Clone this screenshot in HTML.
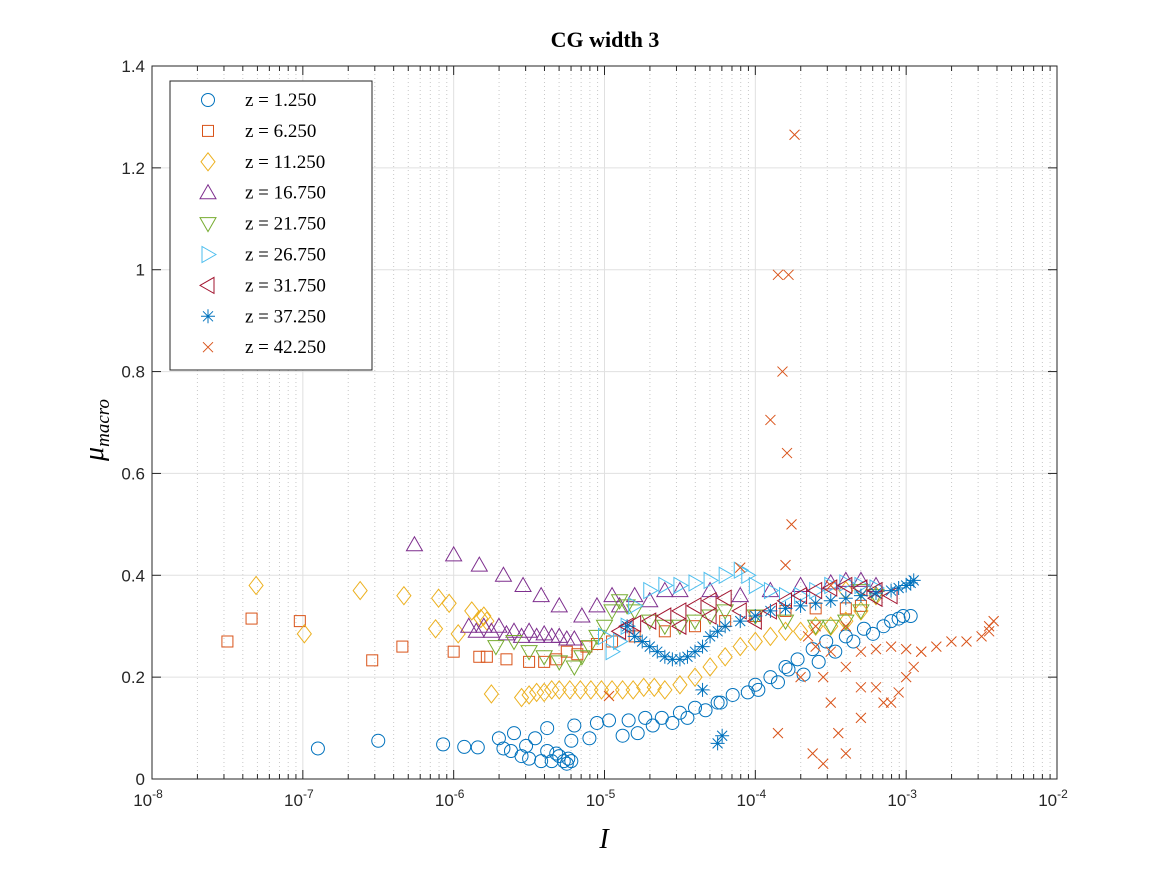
<!DOCTYPE html>
<html><head><meta charset="utf-8"><style>
body{margin:0;background:#fff}
svg{display:block;font-family:"Liberation Sans",sans-serif}
</style></head><body>
<svg id="chart" width="1167" height="875"></svg>
<script>
const categories=["z = 1.250","z = 6.250","z = 11.250","z = 16.750","z = 21.750","z = 26.750","z = 31.750","z = 37.250","z = 42.250"];
const xTicks=[-8,-7,-6,-5,-4,-3,-2];
const yTicks=[0,0.2,0.4,0.6,0.8,1,1.2,1.4];
const yTickLabels=["0","0.2","0.4","0.6","0.8","1","1.2","1.4"];
const s1x=[-6.90,-6.50,-6.07,-5.93,-5.84,-5.70,-5.67,-5.62,-5.60,-5.55,-5.52,-5.50,-5.46,-5.42,-5.38,-5.38,-5.35,-5.32,-5.30,-5.27,-5.25,-5.24,-5.22,-5.22,-5.20,-5.10,-5.05,-4.97,-4.88,-4.84,-4.78,-4.73,-4.68,-4.62,-4.55,-4.50,-4.45,-4.40,-4.33,-4.25,-4.23,-4.15,-4.05,-4.00,-3.98,-3.90,-3.85,-3.80,-3.78,-3.72,-3.68,-3.62,-3.58,-3.53,-3.47,-3.40,-3.35,-3.28,-3.22,-3.15,-3.10,-3.05,-3.02,-2.97];
const s1y=[0.06,0.075,0.068,0.063,0.062,0.08,0.06,0.055,0.09,0.045,0.065,0.04,0.08,0.035,0.1,0.055,0.035,0.05,0.045,0.035,0.03,0.04,0.035,0.075,0.105,0.08,0.11,0.115,0.085,0.115,0.09,0.12,0.105,0.12,0.11,0.13,0.12,0.14,0.135,0.15,0.15,0.165,0.17,0.185,0.175,0.2,0.19,0.22,0.215,0.235,0.205,0.255,0.23,0.27,0.25,0.28,0.27,0.295,0.285,0.3,0.31,0.315,0.32,0.32];
const s2x=[-7.50,-7.34,-7.02,-6.54,-6.34,-6.00,-5.83,-5.78,-5.65,-5.5,-5.4,-5.32,-5.25,-5.18,-5.12,-5.05,-4.95,-4.8,-4.6,-4.4,-4.2,-4.0,-3.8,-3.6,-3.4,-3.3];
const s2y=[0.27,0.315,0.31,0.233,0.26,0.25,0.24,0.24,0.235,0.23,0.23,0.235,0.25,0.245,0.26,0.265,0.27,0.28,0.29,0.3,0.31,0.32,0.33,0.335,0.335,0.34];
const s3x=[-7.31,-6.99,-6.62,-6.33,-6.12,-6.03,-6.10,-5.97,-5.88,-5.82,-5.80,-5.78,-5.75,-5.55,-5.5,-5.45,-5.4,-5.35,-5.3,-5.23,-5.16,-5.09,-5.02,-4.95,-4.88,-4.81,-4.74,-4.67,-4.6,-4.5,-4.4,-4.3,-4.2,-4.1,-4.0,-3.9,-3.8,-3.7,-3.6,-3.5,-3.4,-3.3,-3.2,-3.4];
const s3y=[0.38,0.285,0.37,0.36,0.295,0.345,0.355,0.285,0.33,0.315,0.32,0.31,0.167,0.16,0.165,0.17,0.17,0.175,0.175,0.175,0.175,0.175,0.175,0.175,0.175,0.175,0.18,0.18,0.175,0.185,0.2,0.22,0.24,0.26,0.27,0.28,0.29,0.29,0.3,0.3,0.31,0.33,0.36,0.37];
const s4x=[-6.26,-6.0,-5.83,-5.67,-5.54,-5.42,-5.3,-5.15,-5.05,-4.95,-5.9,-5.85,-5.8,-5.75,-5.7,-5.65,-5.6,-5.55,-5.5,-5.45,-5.4,-5.35,-5.3,-5.25,-5.2,-4.9,-4.8,-4.7,-4.6,-4.5,-4.3,-4.1,-3.9,-3.7,-3.5,-3.4,-3.3,-3.2];
const s4y=[0.46,0.44,0.42,0.40,0.38,0.36,0.34,0.32,0.34,0.36,0.3,0.29,0.3,0.29,0.3,0.285,0.29,0.28,0.29,0.28,0.285,0.28,0.28,0.275,0.275,0.34,0.36,0.35,0.37,0.37,0.37,0.36,0.37,0.38,0.385,0.39,0.39,0.38];
const s5x=[-5.72,-5.6,-5.5,-5.4,-5.3,-5.2,-5.15,-5.1,-5.05,-5.0,-4.95,-4.9,-4.85,-4.8,-4.7,-4.6,-4.5,-4.4,-4.3,-4.2,-4.0,-3.8,-3.6,-3.5,-3.4,-3.3,-3.2,-3.3];
const s5y=[0.26,0.27,0.25,0.24,0.23,0.22,0.24,0.26,0.28,0.3,0.33,0.35,0.34,0.33,0.31,0.3,0.3,0.31,0.32,0.33,0.32,0.31,0.3,0.3,0.31,0.33,0.36,0.37];
const s6x=[-5.0,-4.95,-4.9,-4.85,-4.8,-4.7,-4.6,-4.5,-4.4,-4.3,-4.2,-4.1,-4.05,-4.0,-3.9,-3.8,-3.7,-3.6,-3.5,-3.4,-3.3,-3.2];
const s6y=[0.28,0.25,0.27,0.3,0.34,0.37,0.38,0.38,0.385,0.39,0.4,0.41,0.4,0.38,0.37,0.36,0.36,0.37,0.38,0.385,0.38,0.375];
const s7x=[-4.9,-4.85,-4.8,-4.7,-4.6,-4.5,-4.4,-4.3,-4.2,-4.1,-4.0,-3.9,-3.8,-3.7,-3.6,-3.5,-3.4,-3.3,-3.2,-3.1,-3.2,-4.3,-4.5];
const s7y=[0.29,0.3,0.305,0.31,0.32,0.33,0.34,0.35,0.355,0.33,0.31,0.33,0.35,0.36,0.37,0.375,0.38,0.375,0.37,0.36,0.355,0.32,0.3];
const s8x=[-4.85,-4.8,-4.75,-4.7,-4.65,-4.6,-4.55,-4.5,-4.45,-4.4,-4.35,-4.3,-4.25,-4.2,-4.1,-4.0,-3.9,-3.8,-3.7,-3.6,-3.5,-3.4,-3.3,-3.2,-3.1,-3.05,-3.0,-2.97,-2.95,-4.35,-4.25,-4.22];
const s8y=[0.3,0.28,0.27,0.26,0.25,0.24,0.235,0.235,0.24,0.25,0.26,0.28,0.29,0.3,0.31,0.32,0.33,0.335,0.34,0.345,0.35,0.355,0.36,0.365,0.37,0.375,0.38,0.385,0.39,0.175,0.07,0.085];
const s9x=[-3.74,-3.85,-3.78,-3.9,-3.82,-3.79,-3.76,-3.8,-4.1,-3.5,-4.97,-3.65,-3.6,-3.55,-3.5,-3.45,-3.62,-3.55,-3.85,-3.7,-3.4,-3.3,-3.2,-3.15,-3.1,-3.05,-3.0,-2.95,-2.9,-2.8,-2.7,-2.6,-2.5,-2.45,-2.42,-2.45,-3.3,-3.2,-3.1,-3.0,-2.9,-3.4,-3.5,-3.6,-3.3,-3.4];
const s9y=[1.265,0.99,0.99,0.705,0.8,0.64,0.5,0.42,0.415,0.38,0.163,0.28,0.26,0.2,0.15,0.09,0.05,0.03,0.09,0.2,0.22,0.18,0.18,0.15,0.15,0.17,0.2,0.22,0.25,0.26,0.27,0.27,0.28,0.3,0.31,0.29,0.25,0.255,0.26,0.255,0.25,0.3,0.25,0.3,0.12,0.05];
const seriesX=[s1x,s2x,s3x,s4x,s5x,s6x,s7x,s8x,s9x];
const seriesY=[s1y,s2y,s3y,s4y,s5y,s6y,s7y,s8y,s9y];
const colors=["#0072BD","#D95319","#EDB120","#7E2F8E","#77AC30","#4DBEEE","#A2142F","#0072BD","#D95319"];
const shapes=["o","s","d","^","v",">","<","*","x"];

const L=152,R=1057,T=66,B=779;
const X=v=>L+(v+8)/6*(R-L);
const Y=v=>B-v/1.4*(B-T);
const svg=document.getElementById('chart');
const NS="http://www.w3.org/2000/svg";
function mk(tag,attrs,parent){const e=document.createElementNS(NS,tag);for(const k in attrs)e.setAttribute(k,attrs[k]);(parent||svg).appendChild(e);return e;}
const bg=mk('rect',{x:L,y:T,width:R-L,height:B-T,fill:'#fff'});


const grid=mk('g',{});


for(let d=-8;d<-2;d++){for(let m=2;m<10;m++){const x=X(d+Math.log10(m));mk('line',{x1:x,x2:x,y1:T,y2:B,stroke:'#c8c8c8','stroke-dasharray':'1,3','stroke-width':1},grid);}}
xTicks.forEach(t=>mk('line',{x1:X(t),x2:X(t),y1:T,y2:B,stroke:'#e0e0e0','stroke-width':1},grid));
yTicks.forEach(t=>mk('line',{x1:L,x2:R,y1:Y(t),y2:Y(t),stroke:'#e0e0e0','stroke-width':1},grid));
mk('rect',{x:L,y:T,width:R-L,height:B-T,fill:'none',stroke:'#262626','stroke-width':1});
const ax=mk('g',{});


for(let d=-8;d<-2;d++){for(let m=2;m<10;m++){const x=X(d+Math.log10(m));mk('line',{x1:x,x2:x,y1:B,y2:B-5,stroke:'#262626'},ax);mk('line',{x1:x,x2:x,y1:T,y2:T+5,stroke:'#262626'},ax);}}
xTicks.forEach(t=>{mk('line',{x1:X(t),x2:X(t),y1:B,y2:B-9,stroke:'#262626'},ax);mk('line',{x1:X(t),x2:X(t),y1:T,y2:T+9,stroke:'#262626'},ax);
 const tx=mk('text',{x:X(t)-4,y:B+27,'text-anchor':'middle','font-size':17,fill:'#262626'},ax);tx.textContent='10';
 const sp=mk('tspan',{dy:-8,'font-size':12},tx);sp.textContent=String(t);});
const ay=mk('g',{});


yTicks.forEach((t,i)=>{mk('line',{x1:L,x2:L+9,y1:Y(t),y2:Y(t),stroke:'#262626'},ay);mk('line',{x1:R,x2:R-9,y1:Y(t),y2:Y(t),stroke:'#262626'},ay);
 const tx=mk('text',{x:L-7,y:Y(t)+6,'text-anchor':'end','font-size':17,fill:'#262626'},ay);tx.textContent=yTickLabels[i];});
function marker(sh,cx,cy,c,g){const a={fill:'none',stroke:c,'stroke-width':1};
 if(sh==='o')return mk('circle',Object.assign({cx,cy,r:6.5},a),g);
 if(sh==='s')return mk('rect',Object.assign({x:cx-5.5,y:cy-5.5,width:11,height:11},a),g);
 if(sh==='d')return mk('polygon',Object.assign({points:`${cx},${cy-9} ${cx+7},${cy} ${cx},${cy+9} ${cx-7},${cy}`},a),g);
 if(sh==='^')return mk('polygon',Object.assign({points:`${cx},${cy-8} ${cx+8},${cy+6} ${cx-8},${cy+6}`},a),g);
 if(sh==='v')return mk('polygon',Object.assign({points:`${cx},${cy+8} ${cx+8},${cy-6} ${cx-8},${cy-6}`},a),g);
 if(sh==='>')return mk('polygon',Object.assign({points:`${cx+8},${cy} ${cx-6},${cy-8} ${cx-6},${cy+8}`},a),g);
 if(sh==='<')return mk('polygon',Object.assign({points:`${cx-8},${cy} ${cx+6},${cy-8} ${cx+6},${cy+8}`},a),g);
 if(sh==='*')return mk('path',Object.assign({d:`M${cx-7},${cy}H${cx+7}M${cx},${cy-7}V${cy+7}M${cx-5},${cy-5}L${cx+5},${cy+5}M${cx-5},${cy+5}L${cx+5},${cy-5}`},a),g);
 return mk('path',Object.assign({d:`M${cx-5},${cy-5}L${cx+5},${cy+5}M${cx-5},${cy+5}L${cx+5},${cy-5}`},a),g);}
seriesX.forEach((xs,si)=>{const g=mk('g',{});
 
 
 xs.forEach((v,i)=>{const m=marker(shapes[si],X(v),Y(seriesY[si][i]),colors[si],g);
  
  });});
const lg=mk('g',{});


mk('rect',{x:170,y:81,width:202,height:289,fill:'#fff',stroke:'#262626'},lg);
categories.forEach((c,i)=>{const y=100+i*30.9;const e=mk('g',{},lg);
 
 
 marker(shapes[i],208,y,colors[i],e);
 const t=mk('text',{x:245,y:y+6,'font-size':19,'font-family':'"Liberation Serif",serif',fill:'#000'},e);t.textContent=c;});
const ti=mk('text',{x:605,y:47,'text-anchor':'middle','font-size':22,'font-weight':'bold','font-family':'"Liberation Serif",serif'});ti.textContent='CG width 3';


const xl=mk('text',{x:604,y:848,'text-anchor':'middle','font-size':28,'font-style':'italic','font-family':'"Liberation Serif",serif'});xl.textContent='I';


const yl=mk('text',{transform:'translate(103,430) rotate(-90)','text-anchor':'middle','font-size':28,'font-style':'italic','font-family':'"Liberation Serif",serif'});


yl.textContent='μ';const sub=mk('tspan',{dy:6,'font-size':19},yl);sub.textContent='macro';
</script>
</body></html>
